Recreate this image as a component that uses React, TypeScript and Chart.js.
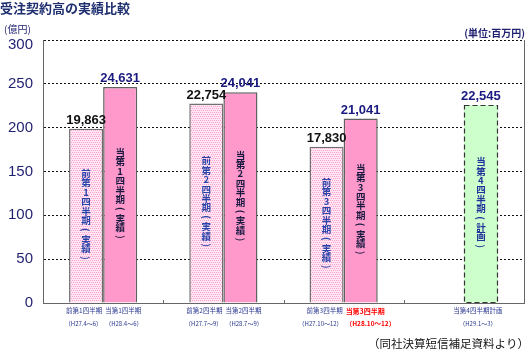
import React, { useEffect, useRef } from "react";
import { Chart, registerables } from "chart.js";
Chart.register(...registerables);

// ---- data (億円) ----
const categories = ["第1四半期", "第2四半期", "第3四半期", "第4四半期"];
const prevValues: (number | null)[] = [198.63, 227.54, 178.3, null];
const currValues: number[] = [246.31, 240.41, 210.41, 225.45];
const prevNames = ["前第1四半期", "前第2四半期", "前第3四半期", ""];
const currNames = ["当第1四半期", "当第2四半期", "当第3四半期", "当第4四半期計画"];
const prevPeriods = ["（H27.4～6）", "（H27.7～9）", "（H27.10～12）", ""];
const currPeriods = ["（H28.4～6）", "（H28.7～9）", "（H28.10～12）", "（H29.1～3）"];
const prevInner = ["前第1四半期(実績)", "前第2四半期(実績)", "前第3四半期(実績)", ""];
const currInner = ["当第1四半期(実績)", "当第2四半期(実績)", "当第3四半期(実績)", "当第4四半期(計画)"];
const yMin = 0;
const yMax = 300;
const yStep = 50;
const yTickLabels = ["0", "50", "100", "150", "200", "250", "300"];
const highlightIndex = 2; // 当第3四半期 label shown in red
const planIndex = 3; // 計画 bar

const TITLE = "受注契約高の実績比較";
const UNIT_LEFT = "(億円)";
const UNIT_RIGHT = "(単位:百万円)";
const SOURCE = "（同社決算短信補足資料より）";

const JP = '"Noto Sans CJK JP", "Noto Sans", sans-serif';
const NUM = '"Liberation Sans", Arial, sans-serif';
const NAVY = "#1f1f70";

function fmt(v: number) {
  return Math.round(v * 100).toLocaleString("en-US");
}

function drawVertical(ctx: CanvasRenderingContext2D, text: string, x: number, cy: number, step: number) {
  const chars = Array.from(text);
  const total = chars.length * step;
  let y = cy - total / 2 + step / 2;
  for (const ch of chars) {
    if (ch === "(" || ch === ")") {
      ctx.save();
      ctx.translate(x, y);
      ctx.rotate(Math.PI / 2);
      ctx.fillText(ch, 0, 0);
      ctx.restore();
    } else {
      ctx.fillText(ch, x, y);
    }
    y += step;
  }
}

function makePattern(): CanvasPattern | string {
  const c = document.createElement("canvas");
  c.width = 4;
  c.height = 4;
  const g = c.getContext("2d");
  if (!g) return "#ffd3ea";
  g.fillStyle = "#ffe6f3";
  g.fillRect(0, 0, 4, 4);
  g.fillStyle = "#ff9fd0";
  [[0, 0], [2, 0], [1, 2], [3, 2]].forEach(([x, y]) => g.fillRect(x, y, 1, 1));
  const p = g.createPattern(c, "repeat");
  return p || "#ffd3ea";
}

const decorPlugin = {
  id: "decor",
  afterDatasetsDraw(chart: any) {
    const ctx: CanvasRenderingContext2D = chart.ctx;
    const area = chart.chartArea;
    const xs = chart.scales.x;
    const ys = chart.scales.y;
    ctx.save();

    // right border
    ctx.strokeStyle = "#666";
    ctx.lineWidth = 1;
    ctx.beginPath();
    ctx.moveTo(Math.round(area.right) + 0.5, area.top);
    ctx.lineTo(Math.round(area.right) + 0.5, area.bottom);
    ctx.stroke();

    // small tick marks at category boundaries
    for (let i = 1; i < categories.length; i++) {
      const bx = (xs.getPixelForValue(i - 1) + xs.getPixelForValue(i)) / 2;
      ctx.beginPath();
      ctx.moveTo(Math.round(bx) + 0.5, area.bottom - 3);
      ctx.lineTo(Math.round(bx) + 0.5, area.bottom);
      ctx.stroke();
    }

    // y tick labels (top one kept inside below the frame line)
    ctx.font = `15px ${NUM}`;
    ctx.fillStyle = NAVY;
    ctx.textAlign = "right";
    ctx.textBaseline = "middle";
    yTickLabels.forEach((t, i) => {
      const py = Math.max(ys.getPixelForValue(yMin + i * yStep), area.top + 5);
      ctx.fillText(t, area.left - 10, py);
    });

    const metaPrev = chart.getDatasetMeta(0);
    const metaCurr = chart.getDatasetMeta(1);

    const drawBarTexts = (meta: any, values: (number | null)[], names: string[], periods: string[], inner: string[], isPrev: boolean) => {
      meta.data.forEach((bar: any, i: number) => {
        const v = values[i];
        if (v == null) return;
        const { x, y, base, width } = bar.getProps(["x", "y", "base", "width"], true);
        // value label
        ctx.font = `bold 13px ${NUM}`;
        ctx.textAlign = "center";
        ctx.textBaseline = "alphabetic";
        ctx.fillStyle = isPrev ? "#111111" : "#1a1a80";
        ctx.fillText(fmt(v), x, y - 5);
        // vertical inner label
        ctx.font = `bold 9.5px ${JP}`;
        ctx.textBaseline = "middle";
        ctx.fillStyle = isPrev ? "#2a44aa" : i === planIndex ? "#22339a" : "#1a1a40";
        drawVertical(ctx, inner[i], x, (y + base) / 2, 9.4);
        // axis labels under bar
        const paired = prevValues[i] != null;
        let lx = x;
        if (paired) {
          ctx.textAlign = isPrev ? "right" : "left";
          lx = isPrev ? x + width / 2 - 1 : x - width / 2 + 2;
        } else {
          ctx.textAlign = "center";
          lx = x - 3;
        }
        const red = !isPrev && i === highlightIndex;
        ctx.fillStyle = red ? "#ff0000" : "#2b3990";
        ctx.font = red ? `bold 7px ${JP}` : `6.5px ${JP}`;
        ctx.fillText(names[i], lx, area.bottom + 8);
        ctx.font = red ? `bold 6.5px ${JP}` : `6px ${JP}`;
        ctx.fillText(periods[i], lx, area.bottom + 21);
        // dashed outline for plan bar
        if (!isPrev && i === planIndex) {
          ctx.save();
          ctx.strokeStyle = "#333";
          ctx.lineWidth = 1.2;
          ctx.setLineDash([5, 3]);
          ctx.strokeRect(Math.round(x - width / 2) + 0.5, Math.round(y) + 0.5, Math.round(width) - 1, Math.round(base - y));
          ctx.restore();
        }
      });
    };
    drawBarTexts(metaPrev, prevValues, prevNames, prevPeriods, prevInner, true);
    drawBarTexts(metaCurr, currValues, currNames, currPeriods, currInner, false);

    ctx.restore();
  },
  afterDraw(chart: any) {
    const ctx: CanvasRenderingContext2D = chart.ctx;
    ctx.save();
    ctx.textBaseline = "middle";
    // title
    ctx.textAlign = "left";
    ctx.fillStyle = "#1f2f70";
    ctx.font = `bold 13px ${JP}`;
    ctx.fillText(TITLE, 0, 8);
    // unit left
    ctx.fillStyle = NAVY;
    ctx.font = `10px ${JP}`;
    ctx.fillText(UNIT_LEFT, 4, 29);
    // unit right
    ctx.textAlign = "right";
    ctx.font = `bold 10px ${JP}`;
    ctx.fillText(UNIT_RIGHT, 525, 33);
    // source
    ctx.fillStyle = "#111";
    ctx.font = `11.5px ${JP}`;
    ctx.fillText(SOURCE, 529, 344);
    ctx.restore();
  },
};

export default function App() {
  const ref = useRef<HTMLCanvasElement>(null);
  useEffect(() => {
    if (!ref.current) return;
    const pattern = makePattern();
    const chart = new Chart(ref.current, {
      type: "bar",
      data: {
        labels: categories,
        datasets: [
          {
            label: "前期",
            data: prevValues,
            backgroundColor: pattern as any,
            borderColor: "#707070",
            borderWidth: 1.5,
          },
          {
            label: "当期",
            data: currValues,
            backgroundColor: currValues.map((_, i) => (i === planIndex ? "#ccffcc" : "#ff99cc")),
            borderColor: "#606060",
            borderWidth: currValues.map((_, i) => (i === planIndex ? 0 : 1.5)),
          },
        ],
      },
      options: {
        animation: false,
        responsive: false,
        maintainAspectRatio: false,
        layout: { padding: { top: 40, right: 6, left: 0, bottom: 0 } },
        datasets: { bar: { categoryPercentage: 0.567, barPercentage: 1 } },
        plugins: { legend: { display: false }, tooltip: { enabled: false }, title: { display: false } },
        scales: {
          x: {
            grid: { display: false },
            border: { display: true, color: "#666", width: 1 },
            ticks: { display: false },
            afterFit: (s: any) => {
              s.height = 51;
            },
          },
          y: {
            min: yMin,
            max: yMax,
            ticks: {
              stepSize: yStep,
              display: false,
            },
            grid: { color: "#111", lineWidth: 1, drawTicks: false },
            border: { display: true, color: "#666", width: 1, dash: [2, 2] },
            afterFit: (s: any) => {
              s.width = 43;
            },
          },
        },
      },
      plugins: [decorPlugin],
    });
    return () => chart.destroy();
  }, []);
  return (
    <div style={{ position: "absolute", left: 0, top: 0, width: 530, height: 354, background: "#fff" }}>
      <canvas ref={ref} width={530} height={354} style={{ display: "block" }} />
    </div>
  );
}
